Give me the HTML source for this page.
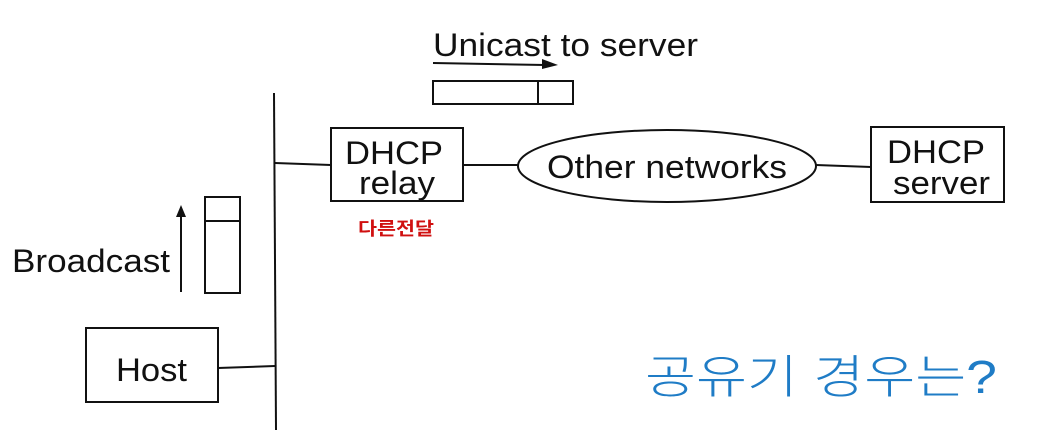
<!DOCTYPE html>
<html><head><meta charset="utf-8"><style>
html,body{margin:0;padding:0;background:#fff;}
svg{display:block}
text{font-family:"Liberation Sans",sans-serif;fill:#111;}
</style></head><body>
<svg width="1040" height="430" viewBox="0 0 1040 430" xmlns="http://www.w3.org/2000/svg">
<g stroke="#111" stroke-width="2" fill="none">
<line x1="274" y1="93" x2="276" y2="430"/>
<rect x="86" y="328" width="132" height="74"/>
<line x1="218" y1="368" x2="275" y2="366"/>
<rect x="205" y="197" width="35" height="96"/>
<line x1="205" y1="221" x2="240" y2="221"/>
<line x1="181" y1="292" x2="181" y2="215"/>
<rect x="331" y="128" width="132" height="73"/>
<line x1="275" y1="163" x2="331" y2="165"/>
<line x1="463" y1="165" x2="518" y2="165"/>
<ellipse cx="667" cy="166" rx="149" ry="36"/>
<line x1="816" y1="165" x2="871" y2="167"/>
<rect x="871" y="127" width="133" height="75"/>
<rect x="433" y="81" width="140" height="23"/>
<line x1="538" y1="81" x2="538" y2="104"/>
<line x1="433" y1="63" x2="545" y2="65"/>
</g>
<polygon points="176,217 181,205 186,217" fill="#111"/>
<polygon points="542,59 558,65 542,69" fill="#111"/>
<text x="433" y="56" font-size="32" textLength="265" lengthAdjust="spacingAndGlyphs">Unicast to server</text>
<text x="12" y="272" font-size="32" textLength="158" lengthAdjust="spacingAndGlyphs">Broadcast</text>
<text x="116" y="381" font-size="32" textLength="71" lengthAdjust="spacingAndGlyphs">Host</text>
<text x="345" y="164" font-size="32" textLength="98" lengthAdjust="spacingAndGlyphs">DHCP</text>
<text x="359" y="194" font-size="32" textLength="76" lengthAdjust="spacingAndGlyphs">relay</text>
<text x="547" y="178" font-size="32" textLength="240" lengthAdjust="spacingAndGlyphs">Other networks</text>
<text x="887" y="163" font-size="32" textLength="98" lengthAdjust="spacingAndGlyphs">DHCP</text>
<text x="893" y="194" font-size="32" textLength="97" lengthAdjust="spacingAndGlyphs">server</text>
<text x="358" y="235" font-size="18" font-weight="bold" textLength="76" lengthAdjust="spacingAndGlyphs" style="fill:#d01010;font-family:'Liberation Sans','Noto Sans CJK KR',sans-serif">다른전달</text>
<text x="645" y="393" font-size="46" font-weight="300" textLength="352" lengthAdjust="spacingAndGlyphs" style="fill:#1f7cc6;font-family:'Liberation Sans','Noto Sans CJK KR',sans-serif">공유기 경우는?</text>
</svg>
</body></html>
